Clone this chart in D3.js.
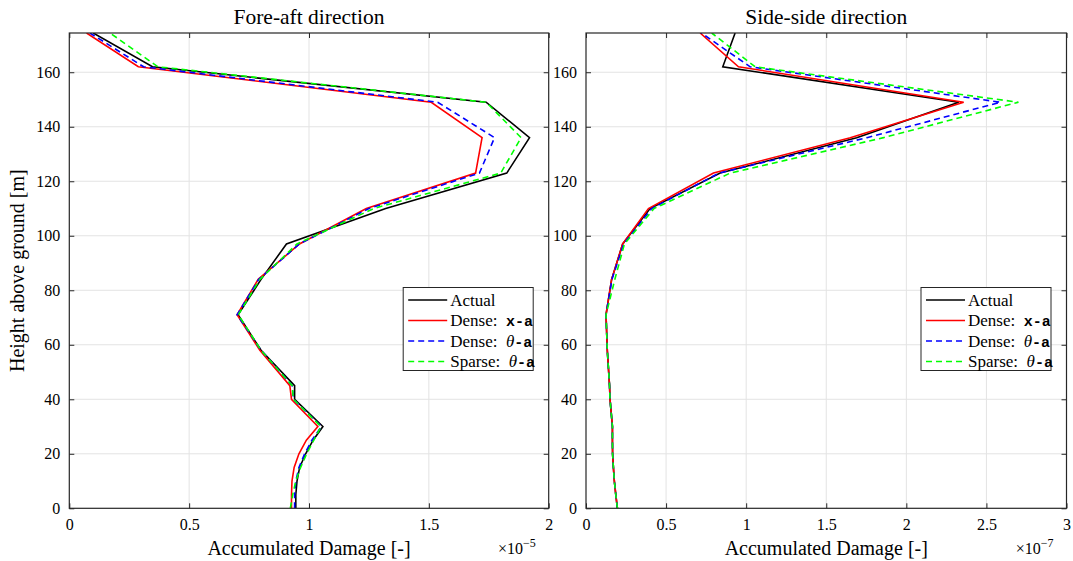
<!DOCTYPE html>
<html>
<head>
<meta charset="utf-8">
<script src="https://cdn.jsdelivr.net/npm/d3@7"></script>
<style>
    body { margin: 0; background: #fff; }
</style>
</head>
<body>
<div id="chart"></div>
<script>
// heights of the tower nodes [m]
var heights = [0, 5, 10, 15, 20, 25, 30, 40, 45, 58, 71, 84, 97, 110, 123, 136, 149, 162, 174.4];

// fore-aft damage (x 1e-5)
var faActual = [0.945, 0.945, 0.95, 0.961, 0.986, 1.017, 1.058, 0.94, 0.94, 0.80, 0.704, 0.80, 0.906, 1.32, 1.825, 1.92, 1.739, 0.347, 0.10];
var faDenseX = [0.927, 0.927, 0.929, 0.938, 0.958, 0.989, 1.037, 0.927, 0.92, 0.795, 0.70, 0.788, 0.96, 1.239, 1.695, 1.722, 1.51, 0.288, 0.072];
var faDenseTheta = [0.94, 0.94, 0.945, 0.958, 0.982, 1.012, 1.052, 0.935, 0.93, 0.80, 0.70, 0.79, 0.96, 1.25, 1.711, 1.774, 1.537, 0.31, 0.086];
var faSparseTheta = [0.922, 0.932, 0.945, 0.965, 0.99, 1.02, 1.05, 0.935, 0.93, 0.80, 0.705, 0.795, 0.95, 1.27, 1.80, 1.885, 1.739, 0.37, 0.17];

// side-side damage (x 1e-7)
var ssActual = [0.196, 0.186, 0.177, 0.171, 0.166, 0.165, 0.165, 0.15, 0.147, 0.133, 0.125, 0.16, 0.229, 0.40, 0.8375, 1.69, 2.327, 0.854, 0.931];
var ssDenseX = [0.196, 0.186, 0.177, 0.171, 0.166, 0.165, 0.165, 0.15, 0.147, 0.133, 0.125, 0.16, 0.229, 0.39, 0.796, 1.65, 2.358, 0.952, 0.7125];
var ssDenseTheta = [0.196, 0.186, 0.177, 0.171, 0.166, 0.165, 0.165, 0.15, 0.147, 0.133, 0.125, 0.162, 0.235, 0.41, 0.83, 1.754, 2.5875, 1.025, 0.72];
var ssSparseTheta = [0.196, 0.186, 0.177, 0.171, 0.166, 0.165, 0.165, 0.15, 0.147, 0.133, 0.125, 0.18, 0.24, 0.425, 0.90, 1.858, 2.70, 1.056, 0.785];

var faTicks = [0, 0.5, 1, 1.5, 2];
var ssTicks = [0, 0.5, 1, 1.5, 2, 2.5, 3];
var yTicks = [0, 20, 40, 60, 80, 100, 120, 140, 160];

var seriesNames = ["Actual", "Dense:  ", "Dense:  ", "Sparse:  "];
var seriesColors = ["#000000", "#ff0000", "#0000ff", "#00ff00"];
var seriesDash = [null, null, "6,4", "6,4"];

var width = 1073, height = 561;
var top0 = 33, bottom0 = 508.3;
var serif = "'Liberation Serif', 'Times New Roman', serif";
var mono = "'Liberation Mono', 'DejaVu Sans Mono', monospace";

var svg = d3.select("#chart")
    .append("svg")
    .attr("width", width)
    .attr("height", height)
    .style("display", "block");

function drawPanel(id, left, right, xMax, ticks, series, title, expo) {
    var x = d3.scaleLinear().domain([0, xMax]).range([left, right]);
    var y = d3.scaleLinear().domain([0, 174.4]).range([bottom0, top0]);

    var g = svg.append("g");

    // grid
    g.append("g").selectAll("line")
        .data(ticks.slice(1, -1))
        .join("line")
        .attr("x1", d => x(d)).attr("x2", d => x(d))
        .attr("y1", top0).attr("y2", bottom0)
        .attr("stroke", "#e3e3e3");
    g.append("g").selectAll("line")
        .data(yTicks.slice(1))
        .join("line")
        .attr("x1", left).attr("x2", right)
        .attr("y1", d => y(d)).attr("y2", d => y(d))
        .attr("stroke", "#e3e3e3");

    // clip for the lines
    svg.append("clipPath").attr("id", id)
        .append("rect")
        .attr("x", left).attr("y", top0)
        .attr("width", right - left).attr("height", bottom0 - top0);

    var line = d3.line()
        .x(d => x(d[0]))
        .y(d => y(d[1]));

    g.append("g").attr("clip-path", "url(#" + id + ")")
        .selectAll("path")
        .data(series)
        .join("path")
        .attr("d", function (d) {
            return line(d.map((v, i) => [v, heights[i]]));
        })
        .attr("fill", "none")
        .attr("stroke", (d, i) => seriesColors[i])
        .attr("stroke-width", 1.6)
        .attr("stroke-dasharray", (d, i) => seriesDash[i]);

    // axes, ticks pointing inwards on all sides
    var xAxis = d3.axisBottom(x).tickValues(ticks).tickSize(-5).tickPadding(10)
        .tickFormat(d => d);
    var xTop = d3.axisTop(x).tickValues(ticks).tickSize(-5).tickFormat("");
    var yAxis = d3.axisLeft(y).tickValues(yTicks).tickSize(-5).tickPadding(9)
        .tickFormat(d => d);
    var yRight = d3.axisRight(y).tickValues(yTicks).tickSize(-5).tickFormat("");

    g.append("g").attr("transform", "translate(0," + bottom0 + ")").call(xAxis);
    g.append("g").attr("transform", "translate(0," + top0 + ")").call(xTop);
    g.append("g").attr("transform", "translate(" + left + ",0)").call(yAxis);
    g.append("g").attr("transform", "translate(" + right + ",0)").call(yRight);
    g.selectAll(".domain").remove();
    g.selectAll(".tick line").attr("stroke", "#262626");
    g.selectAll(".tick text").style("font-size", "16px").attr("fill", "#000");

    g.append("rect")
        .attr("x", left).attr("y", top0)
        .attr("width", right - left).attr("height", bottom0 - top0)
        .attr("fill", "none")
        .attr("stroke", "#262626")
        .attr("stroke-width", 1.2);

    // title and x label
    g.append("text")
        .attr("x", (left + right) / 2).attr("y", 24)
        .attr("text-anchor", "middle")
        .style("font-size", "21.5px")
        .text(title);
    g.append("text")
        .attr("x", (left + right) / 2).attr("y", 555)
        .attr("text-anchor", "middle")
        .style("font-size", "20px")
        .text("Accumulated Damage [-]");

    var ex = g.append("text")
        .attr("x", right - 13).attr("y", 554)
        .attr("text-anchor", "end")
        .style("font-size", "16px");
    ex.append("tspan").text("\u00d710");
    ex.append("tspan").attr("dy", -7).style("font-size", "12px").text("\u2212" + expo);

    // legend
    var lw = 130, lh = 83;
    var lx = right - 15.5 - lw, ly = 287.5;
    var leg = g.append("g").attr("transform", "translate(" + lx + "," + ly + ")");
    leg.append("rect")
        .attr("width", lw).attr("height", lh)
        .attr("fill", "#fff")
        .attr("stroke", "#262626")
        .attr("stroke-width", 1);

    var rows = leg.selectAll("g.row")
        .data(seriesNames)
        .join("g")
        .attr("class", "row")
        .attr("transform", (d, i) => "translate(0," + (12.5 + i * 20.5) + ")");
    rows.append("line")
        .attr("x1", 5).attr("x2", 44)
        .attr("stroke", (d, i) => seriesColors[i])
        .attr("stroke-width", 1.6)
        .attr("stroke-dasharray", (d, i) => seriesDash[i]);
    rows.each(function (d, i) {
        var t = d3.select(this).append("text")
            .attr("x", 47).attr("y", 5.5)
            .style("font-size", "17px")
            .style("white-space", "pre");
        t.append("tspan").text(d);
        if (i === 1) {
            t.append("tspan").attr("class", "mono").text("x-a");
        } else if (i > 1) {
            t.append("tspan").style("font-style", "italic").text("\u03b8");
            t.append("tspan").attr("class", "mono").text("-a");
        }
    });
}

drawPanel("clipFA", 69.3, 548.7, 2, faTicks,
    [faActual, faDenseX, faDenseTheta, faSparseTheta], "Fore-aft direction", "5");
drawPanel("clipSS", 586, 1066.5, 3, ssTicks,
    [ssActual, ssDenseX, ssDenseTheta, ssSparseTheta], "Side-side direction", "7");

svg.append("text")
    .attr("transform", "translate(24," + (top0 + bottom0) / 2 + ") rotate(-90)")
    .attr("text-anchor", "middle")
    .style("font-size", "20px")
    .text("Height above ground [m]");

// force the fonts inline on every text element
svg.selectAll("text").style("font-family", serif).attr("fill", "#000");
svg.selectAll("tspan.mono").style("font-family", mono)
    .style("font-weight", "bold").style("font-size", "15px");
</script>
</body>
</html>
